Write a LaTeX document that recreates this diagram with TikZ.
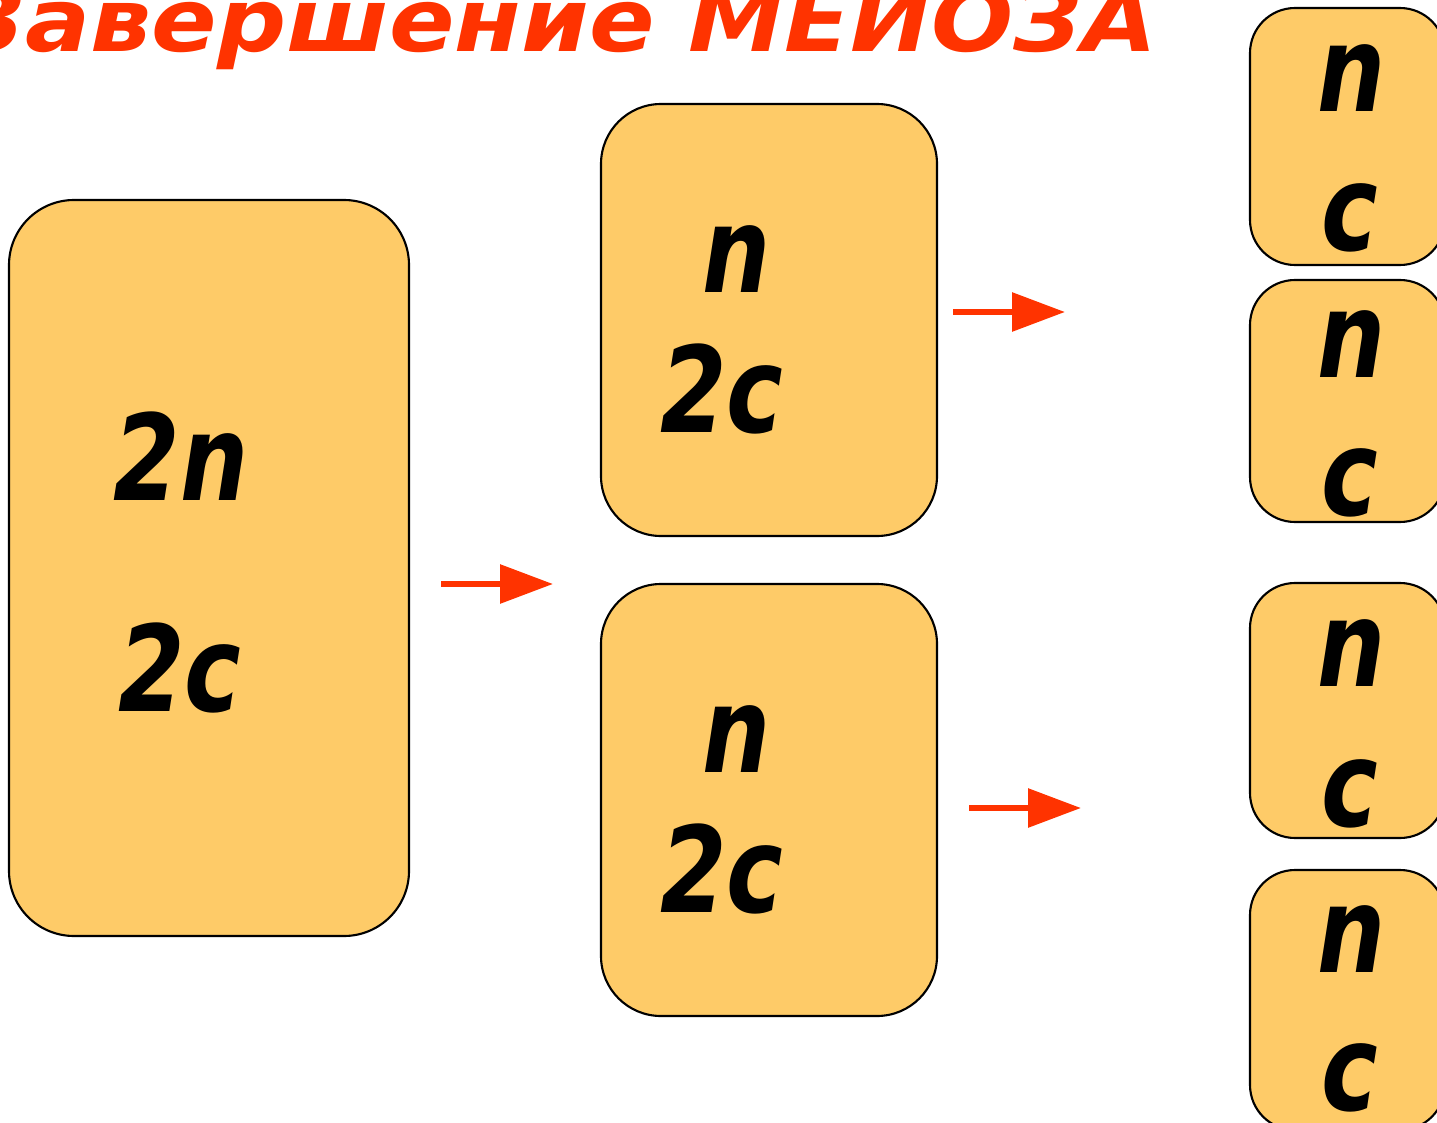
\documentclass[tikz,border=0pt]{standalone}
\usepackage{fontspec}
\setmainfont{DejaVu Sans}
\newfontfamily\cellfont[FakeStretch=0.8]{DejaVu Sans}
\newfontfamily\titlefont[FakeStretch=1.1]{DejaVu Sans}
\usepackage{tikz}
\usetikzlibrary{arrows.meta}

\definecolor{cellfill}{RGB}{254,203,104}
\definecolor{meiored}{RGB}{255,51,0}

\begin{document}
\begin{tikzpicture}[
    cell/.style={draw, fill=cellfill, line width=0.6pt, inner sep=0pt},
    lbl/.style={anchor=base, inner sep=0pt, font=\cellfont\bfseries\itshape\fontsize{34}{34}\selectfont},
    step arrow/.style={meiored, line width=1.7pt, -{Triangle[length=5.3mm, width=3.8mm]}}]

    \useasboundingbox (0,0) rectangle (14.37,-11.23);
    \clip (0,0) rectangle (14.37,-11.23);

    % title, cut by the page edge
    \node [anchor=base east, inner sep=0pt, text=meiored,
           font=\titlefont\bfseries\itshape\fontsize{25}{25}\selectfont] (title) at (11.58,-0.52) {Завершение МЕЙОЗА};

    % cells
    \node [cell, minimum width=4.00cm, minimum height=7.36cm, rounded corners=0.65cm] (cell) at (2.09,-5.68) {};
    \node [cell, minimum width=3.36cm, minimum height=4.32cm, rounded corners=0.6cm] (half1) at (7.69,-3.20) {};
    \node [cell, minimum width=3.36cm, minimum height=4.32cm, rounded corners=0.6cm] (half2) at (7.69,-8.00) {};
    \node [cell, minimum width=1.95cm, minimum height=2.57cm, rounded corners=0.45cm] (q1) at (13.475,-1.365) {};
    \node [cell, minimum width=1.95cm, minimum height=2.42cm, rounded corners=0.45cm] (q2) at (13.475,-4.01) {};
    \node [cell, minimum width=1.95cm, minimum height=2.55cm, rounded corners=0.45cm] (q3) at (13.475,-7.105) {};
    \node [cell, minimum width=1.95cm, minimum height=2.60cm, rounded corners=0.45cm] (q4) at (13.475,-10.00) {};

    % labels
    \node [lbl] (cellN) at (1.81,-5.00) {2n};
    \node [lbl] (cellC) at (1.80,-7.11) {2c};
    \node [lbl] (half1N) at (7.37,-2.92) {n};
    \node [lbl] (half1C) at (7.22,-4.32) {2c};
    \node [lbl] (half2N) at (7.37,-7.72) {n};
    \node [lbl] (half2C) at (7.22,-9.12) {2c};
    \node [lbl] (q1N) at (13.52,-1.12) {n};
    \node [lbl] (q1C) at (13.50,-2.50) {c};
    \node [lbl] (q2N) at (13.52,-3.77) {n};
    \node [lbl] (q2C) at (13.50,-5.15) {c};
    \node [lbl] (q3N) at (13.52,-6.86) {n};
    \node [lbl] (q3C) at (13.50,-8.26) {c};
    \node [lbl] (q4N) at (13.52,-9.72) {n};
    \node [lbl] (q4C) at (13.50,-11.10) {c};

    % arrows
    \coordinate (a1) at (4.41,-5.84);
    \coordinate (b1) at (5.53,-5.84);
    \coordinate (a2) at (9.53,-3.12);
    \coordinate (b2) at (10.65,-3.12);
    \coordinate (a3) at (9.69,-8.08);
    \coordinate (b3) at (10.81,-8.08);
    \foreach \i in {1,2,3} {
        \draw [step arrow] (a\i) -- (b\i);
    }

\end{tikzpicture}
\end{document}
